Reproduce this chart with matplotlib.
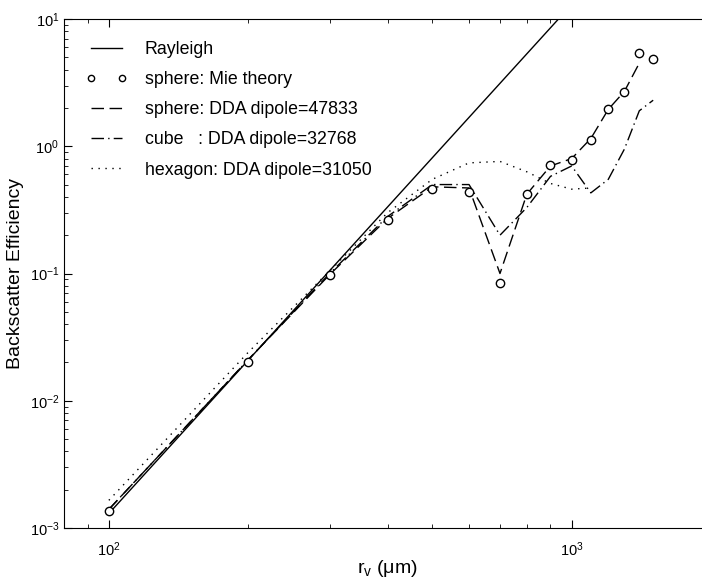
import numpy as np
import matplotlib
matplotlib.use("Agg")
import matplotlib.pyplot as plt

plt.rcParams['font.family'] = ['Liberation Sans', 'DejaVu Sans']
plt.rcParams['mathtext.fontset'] = 'custom'
plt.rcParams['mathtext.rm'] = 'Liberation Sans'
plt.rcParams['mathtext.it'] = 'Liberation Sans:italic'

# radius (um)
r = [100, 200, 300, 400, 500, 600, 700, 800, 900, 1000, 1100, 1200, 1300, 1400, 1500]

rayleigh_r = [100, 1000]
rayleigh_q = [1.3e-3, 13.0]

mie_q = [1.36e-3, 0.0203, 0.097, 0.263, 0.461, 0.437, 0.0842, 0.422, 0.713, 0.78,
         1.12, 1.96, 2.67, 5.41, 4.85]

sphere_r = [100, 200, 300, 400, 500, 600, 700, 800, 900, 1000, 1100, 1200, 1300, 1400]
sphere_q = [1.4e-3, 0.021, 0.098, 0.27, 0.48, 0.47, 0.10, 0.42, 0.70, 0.80,
            1.15, 1.95, 2.7, 4.5]

cube_q = [1.4e-3, 0.021, 0.10, 0.28, 0.50, 0.50, 0.20, 0.33, 0.58, 0.70,
          0.43, 0.55, 0.95, 1.9, 2.3]

hex_r = [100, 200, 300, 400, 500, 600, 700, 800, 900, 1000, 1100]
hex_q = [1.65e-3, 0.024, 0.105, 0.30, 0.55, 0.74, 0.76, 0.63, 0.51, 0.46, 0.47]

fig = plt.figure(figsize=(7.02, 5.80), dpi=100)
ax = fig.add_axes([64/702, 52/580, 647/702, 509/580])

ax.plot(rayleigh_r, rayleigh_q, color='k', lw=1.0, label='Rayleigh')
ax.plot(r, mie_q, 'o', mfc='white', mec='k', ms=6, mew=1.0, color='k',
        label='sphere: Mie theory', zorder=5)
ax.plot(sphere_r, sphere_q, color='k', lw=1.0, dashes=(9, 4),
        label='sphere: DDA dipole=47833')
ax.plot(r, cube_q, color='k', lw=1.0, dashes=(9, 3, 1, 3),
        label='cube   : DDA dipole=32768')
ax.plot(hex_r, hex_q, color='k', lw=1.0, dashes=(1, 4),
        label='hexagon: DDA dipole=31050')

ax.set_xscale('log')
ax.set_yscale('log')
ax.set_xlim(80, 2000)
ax.set_ylim(1e-3, 10)

ax.tick_params(which='both', direction='in', top=True, right=True, labelsize=10.5)
ax.tick_params(axis='x', which='major', pad=9)
ax.tick_params(which='major', length=6, width=0.8)
ax.tick_params(which='minor', length=3, width=0.6)

ax.set_xlabel(r'r$_\mathregular{v}$ ($\mathregular{\mu}$m)', fontsize=14)
ax.xaxis.set_label_coords(0.5, -0.058)
ax.set_ylabel('Backscatter Efficiency', fontsize=14, labelpad=4)

leg = ax.legend(loc='upper left', frameon=False, fontsize=12.8, numpoints=2,
                handlelength=2.3, handletextpad=1.0, labelspacing=0.74,
                borderpad=0, borderaxespad=0, markerscale=0.75,
                bbox_to_anchor=(0.034, 0.957))

fig.savefig('out.png', dpi=100)
